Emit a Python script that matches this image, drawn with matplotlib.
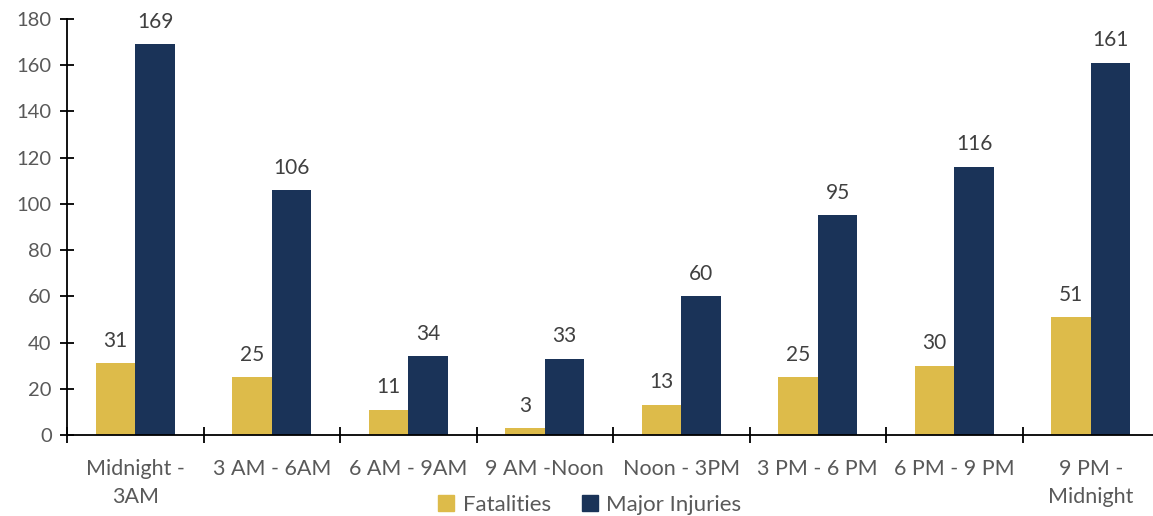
import numpy as np
import matplotlib
matplotlib.use('Agg')
import matplotlib.pyplot as plt
from matplotlib.patches import Patch

categories = ['Midnight -\n3AM', '3 AM - 6AM', '6 AM - 9AM', '9 AM -Noon',
              'Noon - 3PM', '3 PM - 6 PM', '6 PM - 9 PM', '9 PM -\nMidnight']
fatalities = [31, 25, 11, 3, 13, 25, 30, 51]
major_injuries = [169, 106, 34, 33, 60, 95, 116, 161]

plt.rcParams['font.family'] = ['Lato', 'DejaVu Sans']
grey = '#595959'
gold = '#DDBB4A'
navy = '#1A3358'

fig = plt.figure(figsize=(11.53, 5.16), dpi=100)
ax = fig.add_axes([67 / 1153, 81 / 516, (1159 - 67) / 1153, 416 / 516])

x = np.arange(len(categories))
w = 0.29
b1 = ax.bar(x - w / 2, fatalities, w, color=gold, label='Fatalities')
b2 = ax.bar(x + w / 2, major_injuries, w, color=navy, label='Major Injuries')

for bars in (b1, b2):
    for r in bars:
        ax.annotate(str(int(r.get_height())), (r.get_x() + r.get_width() / 2, r.get_height()),
                    xytext=(0, 9), textcoords='offset points', ha='center', va='bottom',
                    fontsize=15, color='#404040')

ax.set_xlim(-0.5, len(categories) - 0.5)
ax.set_ylim(0, 180)
ax.set_yticks(range(0, 181, 20))
ax.tick_params(axis='y', direction='inout', length=10, width=1.3, labelsize=14.5,
               labelcolor=grey, pad=6)
ax.set_xticks(np.arange(-0.5, len(categories), 1))
ax.set_xticklabels([])
ax.set_xticks(x, minor=True)
ax.set_xticklabels(categories, minor=True, fontsize=15.5, color=grey, linespacing=1.55)
ax.tick_params(axis='x', which='major', direction='inout', length=12, width=1.3)
ax.tick_params(axis='x', which='minor', length=0, pad=17)

for s in ['top', 'right']:
    ax.spines[s].set_visible(False)
for s in ['left', 'bottom']:
    ax.spines[s].set_linewidth(1.3)

handles = [Patch(color=gold), Patch(color=navy)]
fig.legend(handles, ['Fatalities', 'Major Injuries'], loc='center', bbox_to_anchor=(590 / 1153, 1 - 505 / 516),
           ncol=2, frameon=False, fontsize=16, labelcolor=grey, handlelength=0.7, handleheight=0.7,
           handletextpad=0.4, columnspacing=1.4, borderpad=0)

fig.savefig('out.png', dpi=100)
